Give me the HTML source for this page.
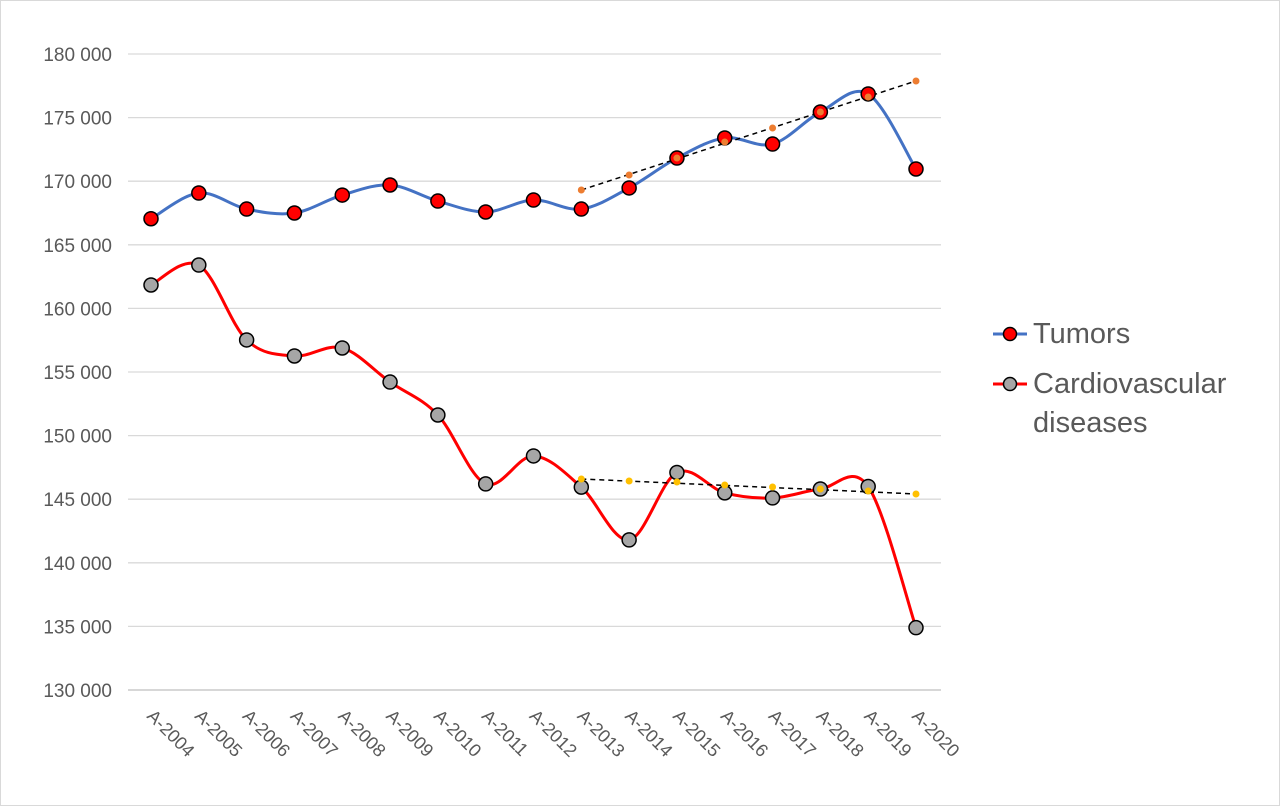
<!DOCTYPE html>
<html><head><meta charset="utf-8"><style>
body{margin:0;background:#fff}
svg{display:block;font-family:"Liberation Sans",sans-serif}
</style></head><body>
<svg id="chart" width="1280" height="806" viewBox="0 0 1280 806">
<rect x="0.5" y="0.5" width="1279" height="805" fill="#fff" stroke="#d9d9d9"/>
<g id="grid"></g>
<g id="yaxis"></g>
<g id="xaxis"></g>
<g id="series"></g>
<g>
<g>
<line x1="993" y1="334" x2="1027" y2="334" stroke="#4472c4" stroke-width="3"/>
<circle cx="1010" cy="334" r="6.5" fill="#ff0000" stroke="#000" stroke-width="1.5"/>
<text x="1033" y="343" font-size="29" fill="#595959">Tumors</text></g>
<g>
<line x1="993" y1="384" x2="1027" y2="384" stroke="#ff0000" stroke-width="3"/>
<circle cx="1010" cy="384" r="6.5" fill="#a6a6a6" stroke="#000" stroke-width="1.5"/>
<text x="1033" y="393" font-size="29" fill="#595959">Cardiovascular</text>
<text x="1033" y="432" font-size="29" fill="#595959">diseases</text></g>
</g>
</svg>
<script>
const categories=["A-2004","A-2005","A-2006","A-2007","A-2008","A-2009","A-2010","A-2011","A-2012","A-2013","A-2014","A-2015","A-2016","A-2017","A-2018","A-2019","A-2020"];
const tumors=[167050,169070,167810,167500,168910,169700,168440,167580,168520,167810,169470,171820,173400,172920,175440,176860,170960];
const cardio=[161840,163410,157520,156260,156890,154210,151620,146200,148400,145950,141800,147100,145500,145100,145800,146000,134900];
const tumorsFitStart=9;
const tumorsFit=[169310,170490,171820,173080,174180,175440,176620,177880];
const cardioFitStart=9;
const cardioFit=[146590,146430,146350,146120,145960,145800,145640,145410];
const yTicks=[130000,135000,140000,145000,150000,155000,160000,165000,170000,175000,180000];
const yLabels=["130 000","135 000","140 000","145 000","150 000","155 000","160 000","165 000","170 000","175 000","180 000"];

const NS="http://www.w3.org/2000/svg";
const x0=151,x1=916,yTop=54,yBot=690,vMin=130000,vMax=180000;
const X=i=>x0+(x1-x0)*i/(categories.length-1);
const Y=v=>yBot-(v-vMin)/(vMax-vMin)*(yBot-yTop);
function mk(tag,attrs,parent){const e=document.createElementNS(NS,tag);for(const k in attrs)e.setAttribute(k,attrs[k]);parent.appendChild(e);return e;}
const grid=document.getElementById('grid'),ya=document.getElementById('yaxis'),xa=document.getElementById('xaxis'),ser=document.getElementById('series');
yTicks.forEach((t,i)=>{
  const l=mk('line',{x1:128,x2:941,y1:Y(t),y2:Y(t),stroke:i===0?'#bfbfbf':'#d9d9d9','stroke-width':1.3},grid);
  
  
  const tx=mk('text',{x:112,y:Y(t)+7,'text-anchor':'end','font-size':19,fill:'#595959'},ya);
  tx.textContent=yLabels[i];
  
  
});
categories.forEach((c,i)=>{
  const tx=mk('text',{x:0,y:0,'font-size':18,fill:'#595959',transform:`translate(${X(i)-5},${yBot+27}) rotate(45)`},xa);
  tx.textContent=c;
  
  
});
function smooth(vals,off){
  const p=vals.map((v,i)=>[X(i+off),Y(v)]);
  let d=`M${p[0][0]},${p[0][1]}`;
  for(let i=0;i<p.length-1;i++){
    const a=p[i-1]||p[i],b=p[i],c=p[i+1],e=p[i+2]||c;
    const t=1/6;
    d+=` C${b[0]+(c[0]-a[0])*t},${b[1]+(c[1]-a[1])*t} ${c[0]-(e[0]-b[0])*t},${c[1]-(e[1]-b[1])*t} ${c[0]},${c[1]}`;
  }
  return d;
}
function series(vals,color,fill,name){
  const path=mk('path',{d:smooth(vals,0),fill:'none',stroke:color,'stroke-width':3},ser);
  
  
  return ()=>vals.forEach((v,i)=>{
    const c=mk('circle',{cx:X(i),cy:Y(v),r:7,fill:fill,stroke:'#000','stroke-width':1.5},ser);
    
    
  });
}
function fit(vals,off,color,name){
  const n=vals.length;
  const l=mk('line',{x1:X(off),y1:Y(vals[0]),x2:X(off+n-1),y2:Y(vals[n-1]),stroke:'#000','stroke-width':1.5,'stroke-dasharray':'5,4'},ser);
  
  
  return ()=>vals.forEach((v,i)=>{
    const c=mk('circle',{cx:X(i+off),cy:Y(v),r:3.5,fill:color},ser);
    
    
  });
}
const pt=series(tumors,'#4472c4','#ff0000','tumors');
const pc=series(cardio,'#ff0000','#a6a6a6','cardio');
const ft=fit(tumorsFit,tumorsFitStart,'#ed7d31','tumors');
const fc=fit(cardioFit,cardioFitStart,'#ffc000','cardio');
pt();pc();ft();fc();
</script>
</body></html>
